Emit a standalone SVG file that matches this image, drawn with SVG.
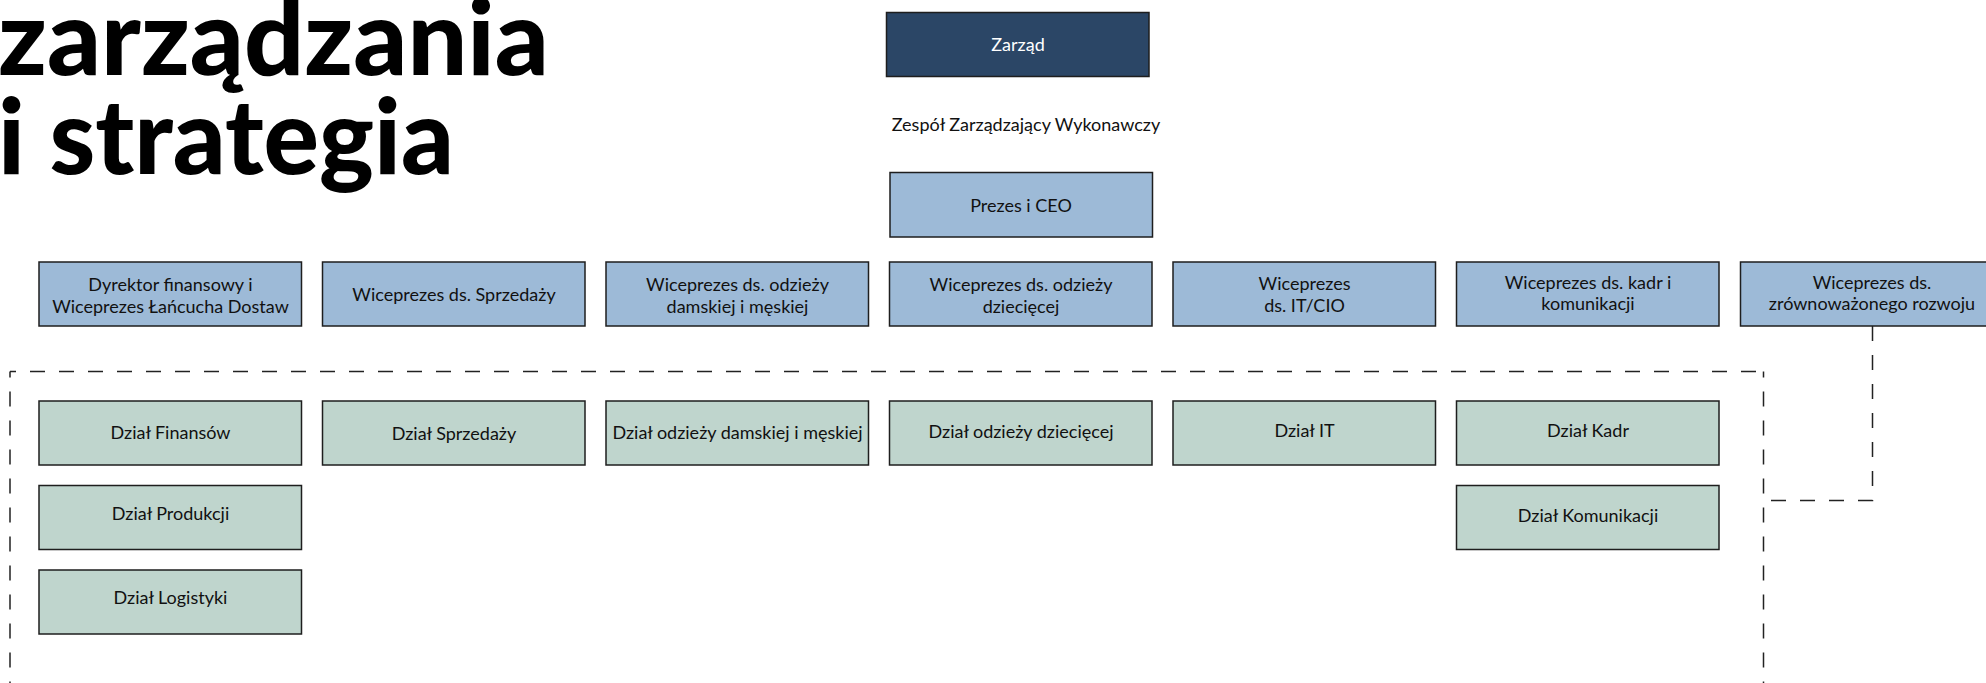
<svg xmlns="http://www.w3.org/2000/svg" width="1986" height="683" viewBox="0 0 1986 683">
<style>
text{font-family:Lato,"Noto Sans","Liberation Sans",sans-serif;}
.t{font-size:18px;fill:#111;text-anchor:middle;}
.w{fill:#fff;}
.title{font-size:104px;font-weight:900;fill:#000;}
.box{stroke:#1e1e1e;stroke-width:1.5;}
.navy{fill:#2b4666;}
.blue{fill:#9dbad7;}
.green{fill:#bfd5cd;}
.dash{fill:none;stroke:#222;stroke-width:1.5;stroke-dasharray:15 14;}
</style>
<rect width="1986" height="683" fill="#fff"/>
<g id="title">
<text class="title" x="-2" y="75" textLength="551" lengthAdjust="spacingAndGlyphs">zarządzania</text>
<text class="title" x="-2" y="174" textLength="456" lengthAdjust="spacingAndGlyphs">i strategia</text>
</g>
<g id="connectors">
<path class="dash" d="M10 371.5 H1763.5" stroke-dashoffset="9"/>
<path class="dash" d="M10 371.5 V700" stroke-dashoffset="9"/>
<path class="dash" d="M1763.5 371.5 V700" stroke-dashoffset="9"/>
<path class="dash" d="M1872.5 326 V500.5 H1763.5"/>
</g>
<g id="zarzad"><rect class="box navy" x="886.5" y="12.5" width="262.5" height="64"/><text class="t w" x="1018" y="51">Zarząd</text></g>
<g id="zespol"><text class="t" x="1026" y="131">Zespół Zarządzający Wykonawczy</text></g>
<g id="prezes"><rect class="box blue" x="890" y="172.5" width="262.5" height="64.5"/><text class="t" x="1021" y="212">Prezes i CEO</text></g>
<g id="vp1"><rect class="box blue" x="39" y="262" width="262.5" height="64"/><text class="t" x="170.5" y="290.5">Dyrektor finansowy i</text><text class="t" x="170.5" y="313">Wiceprezes Łańcucha Dostaw</text></g>
<g id="vp2"><rect class="box blue" x="322.5" y="262" width="262.5" height="64"/><text class="t" x="454" y="301">Wiceprezes ds. Sprzedaży</text></g>
<g id="vp3"><rect class="box blue" x="606" y="262" width="262.5" height="64"/><text class="t" x="737.5" y="290.5">Wiceprezes ds. odzieży</text><text class="t" x="737.5" y="313">damskiej i męskiej</text></g>
<g id="vp4"><rect class="box blue" x="889.5" y="262" width="262.5" height="64"/><text class="t" x="1021" y="290.5">Wiceprezes ds. odzieży</text><text class="t" x="1021" y="313">dziecięcej</text></g>
<g id="vp5"><rect class="box blue" x="1173" y="262" width="262.5" height="64"/><text class="t" x="1304.5" y="290">Wiceprezes</text><text class="t" x="1304.5" y="311.5">ds. IT/CIO</text></g>
<g id="vp6"><rect class="box blue" x="1456.5" y="262" width="262.5" height="64"/><text class="t" x="1588" y="288.5">Wiceprezes ds. kadr i</text><text class="t" x="1588" y="310">komunikacji</text></g>
<g id="vp7"><rect class="box blue" x="1740.5" y="262" width="262.5" height="64"/><text class="t" x="1872" y="288.5">Wiceprezes ds.</text><text class="t" x="1872" y="310">zrównoważonego rozwoju</text></g>
<g id="d-finansow"><rect class="box green" x="39" y="401" width="262.5" height="64"/><text class="t" x="170.5" y="439">Dział Finansów</text></g>
<g id="d-produkcji"><rect class="box green" x="39" y="485.5" width="262.5" height="64"/><text class="t" x="170.5" y="519.5">Dział Produkcji</text></g>
<g id="d-logistyki"><rect class="box green" x="39" y="570" width="262.5" height="64"/><text class="t" x="170.5" y="603.5">Dział Logistyki</text></g>
<g id="d-sprzedazy"><rect class="box green" x="322.5" y="401" width="262.5" height="64"/><text class="t" x="454" y="439.5">Dział Sprzedaży</text></g>
<g id="d-damskiej"><rect class="box green" x="606" y="401" width="262.5" height="64"/><text class="t" x="737.5" y="438.5">Dział odzieży damskiej i męskiej</text></g>
<g id="d-dzieciecej"><rect class="box green" x="889.5" y="401" width="262.5" height="64"/><text class="t" x="1021" y="437.5">Dział odzieży dziecięcej</text></g>
<g id="d-it"><rect class="box green" x="1173" y="401" width="262.5" height="64"/><text class="t" x="1304.5" y="436.5">Dział IT</text></g>
<g id="d-kadr"><rect class="box green" x="1456.5" y="401" width="262.5" height="64"/><text class="t" x="1588" y="436.5">Dział Kadr</text></g>
<g id="d-komunikacji"><rect class="box green" x="1456.5" y="485.5" width="262.5" height="64"/><text class="t" x="1588" y="521.5">Dział Komunikacji</text></g>
</svg>
